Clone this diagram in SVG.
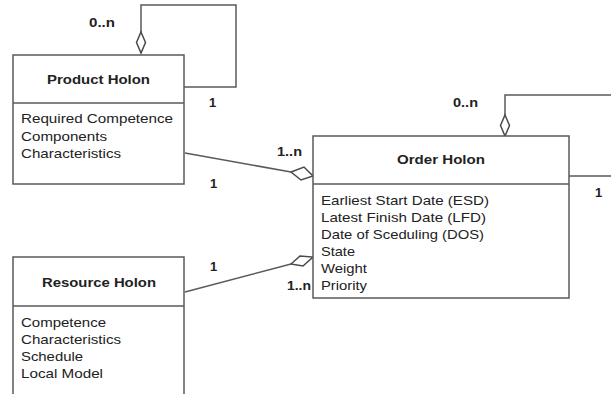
<svg xmlns="http://www.w3.org/2000/svg" width="611" height="394" viewBox="0 0 611 394">
<style>
.box{fill:#fff;stroke:#5a5a5a;stroke-width:1.5}
.ln{fill:none;stroke:#5a5a5a;stroke-width:1.5}
.dm{fill:#fff;stroke:#4a4a4a;stroke-width:1.5}
text{font-family:"Liberation Sans",Arial,sans-serif;fill:#222}
.t{font-size:13px;font-weight:bold;text-anchor:middle}
.a{font-size:13px}
.l{font-size:13px;font-weight:bold}
</style>
<rect width="611" height="394" fill="#fff"/>
<g id="connectors">
<polyline class="ln" points="141,32 141,5 236,5 236,87 184,87"/>
<polygon class="dm" points="141,32 145.5,42.5 141,53 136.5,42.5"/>
<polyline class="ln" points="505,115 505,95 611,95"/>
<polygon class="dm" points="505,115 509.5,125.5 505,136 500.5,125.5"/>
<line class="ln" x1="569" y1="176" x2="611" y2="176"/>
<line class="ln" x1="185" y1="153" x2="291" y2="172"/>
<polygon class="dm" points="291,172 304,167 313,176 301,180"/>
<line class="ln" x1="185" y1="292" x2="291" y2="264"/>
<polygon class="dm" points="291,264 300,256 313,257 303,266"/>
<text class="l" x="89" y="27" textLength="26" lengthAdjust="spacingAndGlyphs">0..n</text>
<text class="l" x="209" y="107">1</text>
<text class="l" x="210" y="188">1</text>
<text class="l" x="453" y="107" textLength="25" lengthAdjust="spacingAndGlyphs">0..n</text>
<text class="l" x="595" y="197">1</text>
<text class="l" x="277" y="156" textLength="25" lengthAdjust="spacingAndGlyphs">1..n</text>
<text class="l" x="287" y="290" textLength="24" lengthAdjust="spacingAndGlyphs">1..n</text>
<text class="l" x="210" y="271">1</text>
</g>
<g id="product-holon">
<rect class="box" x="13" y="55" width="171" height="129"/>
<line class="ln" x1="13" y1="103" x2="184" y2="103"/>
<text class="t" x="98.5" y="84" textLength="103" lengthAdjust="spacingAndGlyphs">Product Holon</text>
<text class="a" x="21" y="123" textLength="152" lengthAdjust="spacingAndGlyphs">Required Competence</text>
<text class="a" x="21" y="140.5" textLength="86" lengthAdjust="spacingAndGlyphs">Components</text>
<text class="a" x="21" y="158" textLength="100" lengthAdjust="spacingAndGlyphs">Characteristics</text>
</g>
<g id="order-holon">
<rect class="box" x="313" y="136" width="256" height="162"/>
<line class="ln" x1="313" y1="184" x2="569" y2="184"/>
<text class="t" x="441" y="164" textLength="88" lengthAdjust="spacingAndGlyphs">Order Holon</text>
<text class="a" x="321" y="205" textLength="168" lengthAdjust="spacingAndGlyphs">Earliest Start Date (ESD)</text>
<text class="a" x="321" y="222" textLength="165" lengthAdjust="spacingAndGlyphs">Latest Finish Date (LFD)</text>
<text class="a" x="321" y="239" textLength="163" lengthAdjust="spacingAndGlyphs">Date of Sceduling (DOS)</text>
<text class="a" x="321" y="256" textLength="34" lengthAdjust="spacingAndGlyphs">State</text>
<text class="a" x="321" y="273" textLength="46" lengthAdjust="spacingAndGlyphs">Weight</text>
<text class="a" x="321" y="290" textLength="46" lengthAdjust="spacingAndGlyphs">Priority</text>
</g>
<g id="resource-holon">
<rect class="box" x="13" y="257" width="171" height="150"/>
<line class="ln" x1="13" y1="306" x2="184" y2="306"/>
<text class="t" x="99" y="287" textLength="114" lengthAdjust="spacingAndGlyphs">Resource Holon</text>
<text class="a" x="21" y="327" textLength="85" lengthAdjust="spacingAndGlyphs">Competence</text>
<text class="a" x="21" y="344" textLength="100" lengthAdjust="spacingAndGlyphs">Characteristics</text>
<text class="a" x="21" y="361" textLength="62" lengthAdjust="spacingAndGlyphs">Schedule</text>
<text class="a" x="21" y="378" textLength="82" lengthAdjust="spacingAndGlyphs">Local Model</text>
</g>
</svg>
